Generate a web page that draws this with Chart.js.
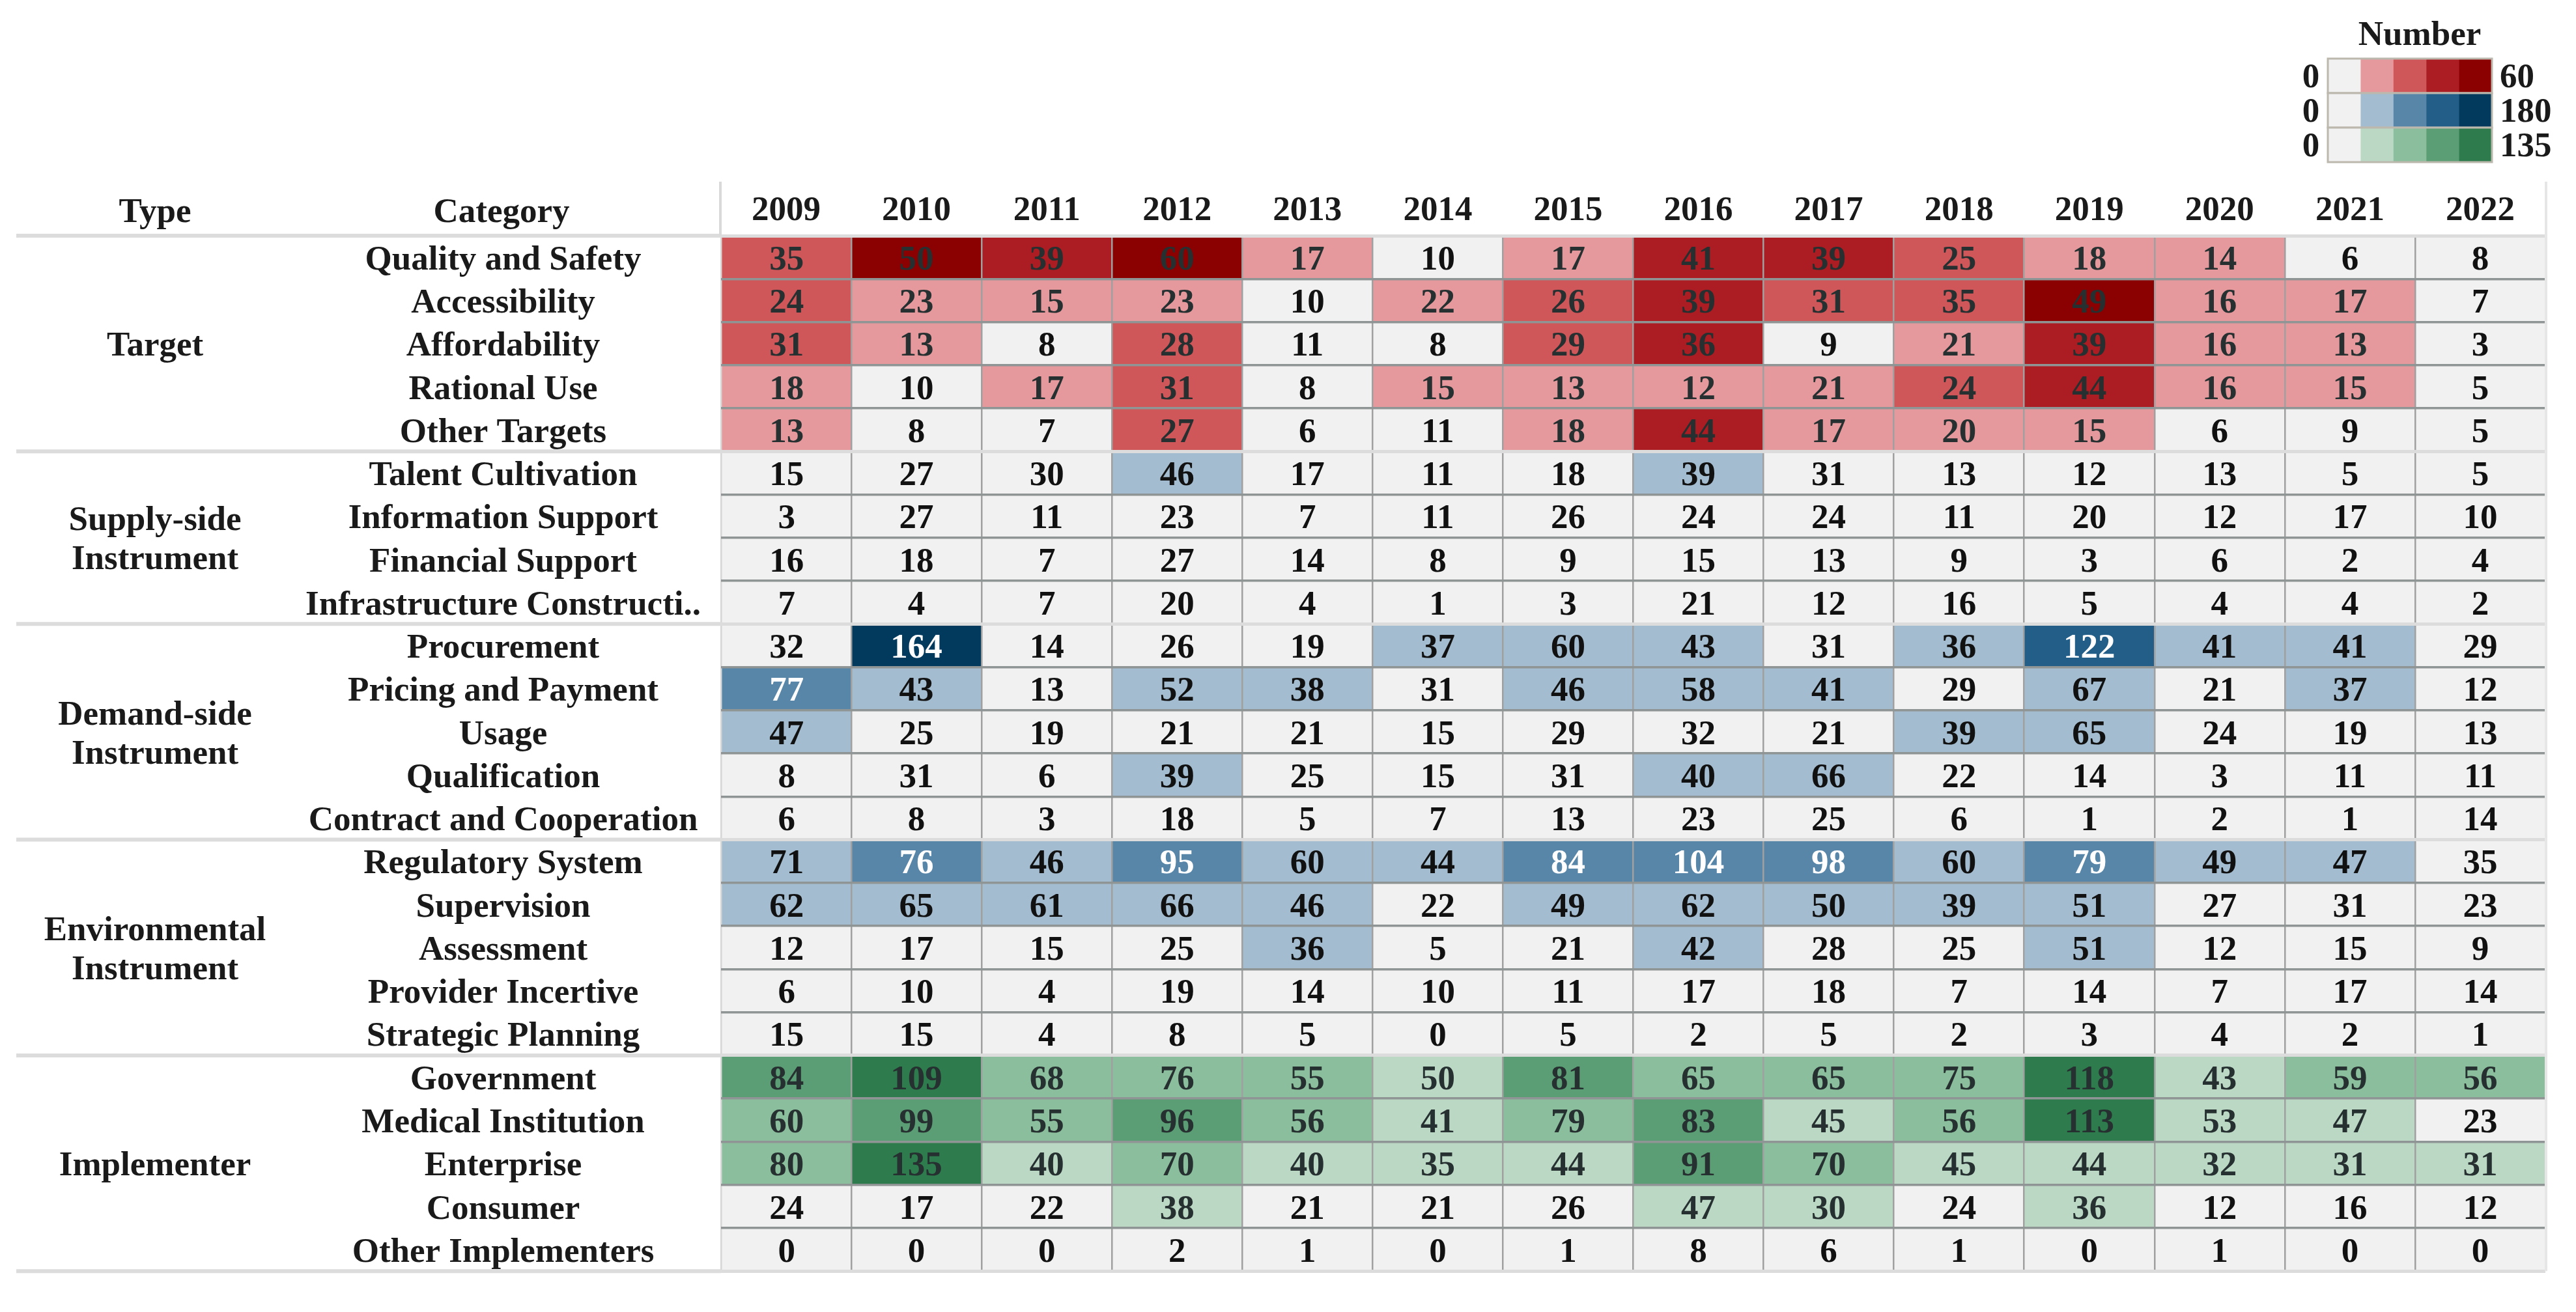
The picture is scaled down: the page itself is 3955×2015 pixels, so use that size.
<!DOCTYPE html>
<html>
<head>
<meta charset="utf-8">
<title>Policy instruments heatmap</title>
<script src="https://cdn.jsdelivr.net/npm/chart.js@4.4.1/dist/chart.umd.min.js"></script>
<style>
  html, body { margin: 0; padding: 0; background: #fff; }
  canvas { display: block; }
</style>
</head>
<body>
<canvas id="heatmap" width="3955" height="2015"></canvas>
<script>
const years = [2009, 2010, 2011, 2012, 2013, 2014, 2015, 2016, 2017, 2018, 2019, 2020, 2021, 2022]

const targetRows = ["Quality and Safety", "Accessibility", "Affordability", "Rational Use", "Other Targets"]
const targetValues = [
	[35, 50, 39, 60, 17, 10, 17, 41, 39, 25, 18, 14, 6, 8],
	[24, 23, 15, 23, 10, 22, 26, 39, 31, 35, 49, 16, 17, 7],
	[31, 13, 8, 28, 11, 8, 29, 36, 9, 21, 39, 16, 13, 3],
	[18, 10, 17, 31, 8, 15, 13, 12, 21, 24, 44, 16, 15, 5],
	[13, 8, 7, 27, 6, 11, 18, 44, 17, 20, 15, 6, 9, 5],
]

const supplyRows = ["Talent Cultivation", "Information Support", "Financial Support", "Infrastructure Constructi.."]
const supplyValues = [
	[15, 27, 30, 46, 17, 11, 18, 39, 31, 13, 12, 13, 5, 5],
	[3, 27, 11, 23, 7, 11, 26, 24, 24, 11, 20, 12, 17, 10],
	[16, 18, 7, 27, 14, 8, 9, 15, 13, 9, 3, 6, 2, 4],
	[7, 4, 7, 20, 4, 1, 3, 21, 12, 16, 5, 4, 4, 2],
]

const demandRows = ["Procurement", "Pricing and Payment", "Usage", "Qualification", "Contract and Cooperation"]
const demandValues = [
	[32, 164, 14, 26, 19, 37, 60, 43, 31, 36, 122, 41, 41, 29],
	[77, 43, 13, 52, 38, 31, 46, 58, 41, 29, 67, 21, 37, 12],
	[47, 25, 19, 21, 21, 15, 29, 32, 21, 39, 65, 24, 19, 13],
	[8, 31, 6, 39, 25, 15, 31, 40, 66, 22, 14, 3, 11, 11],
	[6, 8, 3, 18, 5, 7, 13, 23, 25, 6, 1, 2, 1, 14],
]

const environmentRows = ["Regulatory System", "Supervision", "Assessment", "Provider Incertive", "Strategic Planning"]
const environmentValues = [
	[71, 76, 46, 95, 60, 44, 84, 104, 98, 60, 79, 49, 47, 35],
	[62, 65, 61, 66, 46, 22, 49, 62, 50, 39, 51, 27, 31, 23],
	[12, 17, 15, 25, 36, 5, 21, 42, 28, 25, 51, 12, 15, 9],
	[6, 10, 4, 19, 14, 10, 11, 17, 18, 7, 14, 7, 17, 14],
	[15, 15, 4, 8, 5, 0, 5, 2, 5, 2, 3, 4, 2, 1],
]

const implementerRows = ["Government", "Medical Institution", "Enterprise", "Consumer", "Other Implementers"]
const implementerValues = [
	[84, 109, 68, 76, 55, 50, 81, 65, 65, 75, 118, 43, 59, 56],
	[60, 99, 55, 96, 56, 41, 79, 83, 45, 56, 113, 53, 47, 23],
	[80, 135, 40, 70, 40, 35, 44, 91, 70, 45, 44, 32, 31, 31],
	[24, 17, 22, 38, 21, 21, 26, 47, 30, 24, 36, 12, 16, 12],
	[0, 0, 0, 2, 1, 0, 1, 8, 6, 1, 0, 1, 0, 0],
]

// colour ramps, 5 equal bins from 0 to max
const reds = ["#f1f1f1", "#e5999c", "#cf5659", "#ab1d22", "#8b0000"]
const blues = ["#f1f1f1", "#a3bccf", "#5886a8", "#225e87", "#023a5e"]
const greens = ["#f1f1f1", "#bbd8c5", "#8bbe9c", "#5b9d74", "#2e7c4d"]
const legendMax = { red: 60, blue: 180, green: 135 }

const groups = [
	{ name: ["Target"], rows: targetRows, values: targetValues, ramp: reds, max: legendMax.red },
	{ name: ["Supply-side", "Instrument"], rows: supplyRows, values: supplyValues, ramp: blues, max: legendMax.blue },
	{ name: ["Demand-side", "Instrument"], rows: demandRows, values: demandValues, ramp: blues, max: legendMax.blue },
	{ name: ["Environmental", "Instrument"], rows: environmentRows, values: environmentValues, ramp: blues, max: legendMax.blue },
	{ name: ["Implementer"], rows: implementerRows, values: implementerValues, ramp: greens, max: legendMax.green },
]

const categories = groups.flatMap(g => g.rows)
const rowValues = groups.flatMap(g => g.values)
const rowGroup = groups.flatMap((g, i) => g.rows.map(() => i))

// row index where each group starts, plus the end
const boundaries = [0]
groups.forEach(g => boundaries.push(boundaries[boundaries.length - 1] + g.rows.length))

const FONT = "'Liberation Serif', 'Times New Roman', serif"
const fontSize = 53

function binOf(row, col) {
	const g = groups[rowGroup[row]]
	const v = rowValues[row][col]
	return Math.min(4, Math.floor(v / (g.max / 5)))
}

function cellColor(row, col) {
	return groups[rowGroup[row]].ramp[binOf(row, col)]
}

function textColor(row, col) {
	const bin = binOf(row, col)
	const g = groups[rowGroup[row]]
	if (g.ramp === blues) return bin >= 2 ? "#ffffff" : "#111111"
	return bin === 0 ? "#111111" : "#263030"
}

// every year is one dataset; each cell is one unit wide in the stack
const datasets = years.map((year, c) => ({
	label: String(year),
	data: categories.map(() => 1),
	backgroundColor: ctx => cellColor(ctx.dataIndex, c),
	borderWidth: 0,
	barPercentage: 1,
	categoryPercentage: 1,
}))

const cellLabels = {
	id: "cellLabels",
	afterDatasetsDraw(chart) {
		const ctx = chart.ctx
		ctx.save()
		ctx.font = `bold ${fontSize}px ${FONT}`
		ctx.textAlign = "center"
		ctx.textBaseline = "middle"
		chart.data.datasets.forEach((ds, c) => {
			chart.getDatasetMeta(c).data.forEach((bar, r) => {
				const p = bar.getCenterPoint()
				ctx.fillStyle = textColor(r, c)
				ctx.fillText(String(rowValues[r][c]), p.x, p.y + 5)
			})
		})
		ctx.restore()
	}
}

const frame = {
	id: "frame",
	afterDraw(chart) {
		const ctx = chart.ctx
		const area = chart.chartArea
		const yScale = chart.scales.y
		const rowH = yScale.getPixelForTick(1) - yScale.getPixelForTick(0)
		const edge = i => i >= categories.length
			? yScale.getPixelForTick(categories.length - 1) + rowH / 2
			: yScale.getPixelForTick(i) - rowH / 2
		ctx.save()

		// separators in the label columns
		ctx.strokeStyle = "#dcdcdc"
		ctx.lineWidth = 6
		boundaries.forEach(b => {
			const y = edge(b)
			ctx.beginPath()
			ctx.moveTo(25, y)
			ctx.lineTo(area.left, y)
			ctx.stroke()
		})

		// header frame
		ctx.strokeStyle = "#d9d9d9"
		ctx.lineWidth = 4
		ctx.beginPath()
		ctx.moveTo(area.left - 1, 279)
		ctx.lineTo(area.left - 1, area.top)
		ctx.stroke()
		ctx.strokeStyle = "#e6e6e6"
		ctx.beginPath()
		ctx.moveTo(area.right + 1, 279)
		ctx.lineTo(area.right + 1, area.bottom)
		ctx.stroke()

		ctx.fillStyle = "#1a1a1a"
		ctx.font = `bold ${fontSize}px ${FONT}`
		ctx.textAlign = "center"
		ctx.textBaseline = "middle"

		// column headers
		ctx.fillText("Type", 238, 327)
		ctx.fillText("Category", 770, 327)

		// type labels
		groups.forEach((g, i) => {
			const mid = (edge(boundaries[i]) + edge(boundaries[i + 1])) / 2 + 5
			const lineGap = 60
			g.name.forEach((line, k) => {
				ctx.fillText(line, 238, mid + (k - (g.name.length - 1) / 2) * lineGap)
			})
		})

		// colour legend
		const lx = 3574, ly = 90, sw = 50.4, sh = 53
		ctx.fillText("Number", 3715, 55)
		const ramps = [[reds, legendMax.red], [blues, legendMax.blue], [greens, legendMax.green]]
		ramps.forEach(([ramp, max], k) => {
			const y = ly + k * sh
			ramp.forEach((col, j) => {
				ctx.fillStyle = col
				ctx.fillRect(lx + j * sw, y, sw + 0.5, sh)
			})
			ctx.strokeStyle = "#bcb8ad"
			ctx.lineWidth = 3
			ctx.strokeRect(lx, y, sw * ramp.length, sh)
			ctx.fillStyle = "#1a1a1a"
			ctx.textAlign = "center"
			ctx.fillText("0", 3548, y + sh / 2 + 4)
			ctx.textAlign = "left"
			ctx.fillText(String(max), 3838, y + sh / 2 + 4)
		})
		ctx.restore()
	}
}

const chart = new Chart(document.getElementById("heatmap"), {
	type: "bar",
	data: { labels: categories, datasets: datasets },
	options: {
		indexAxis: "y",
		responsive: false,
		devicePixelRatio: 1,
		animation: false,
		layout: { padding: { top: 0, left: 0, right: 47, bottom: 48 } },
		plugins: {
			legend: { display: false },
			tooltip: { enabled: false },
		},
		scales: {
			x: {
				type: "linear",
				min: 0,
				max: years.length,
				stacked: true,
				ticks: { display: false, stepSize: 1 },
				grid: {
					z: 1,
					drawTicks: false,
					color: ctx => (ctx.index === 0 || ctx.index === years.length) ? "#d6d6d6" : "#a0a0a0",
					lineWidth: 2.5,
				},
				border: { display: false },
				afterFit: s => { s.height = 0 },
			},
			x2: {
				type: "category",
				labels: years.map(String),
				position: "top",
				offset: true,
				grid: { display: false },
				border: { display: false },
				ticks: {
					color: "#1a1a1a",
					font: { family: FONT, size: fontSize, weight: "bold" },
					padding: -2,
					maxRotation: 0,
					autoSkip: false,
				},
				afterFit: s => { s.height = 362 },
			},
			y: {
				type: "category",
				stacked: true,
				offset: true,
				grid: {
					z: 1,
					offset: true,
					drawTicks: false,
					color: ctx => (ctx.index === undefined || boundaries.includes(ctx.index)) ? "#dcdcdc" : "#8f9494",
					lineWidth: ctx => (ctx.index === undefined || boundaries.includes(ctx.index)) ? 5 : 3.5,
				},
				border: { display: false },
				ticks: {
					crossAlign: "center",
					padding: 31,
					labelOffset: 5,
					color: "#1a1a1a",
					font: { family: FONT, size: fontSize, weight: "bold" },
					autoSkip: false,
				},
				afterFit: s => { s.width = 1107 },
			},
		},
	},
	plugins: [cellLabels, frame],
})
</script>
</body>
</html>
